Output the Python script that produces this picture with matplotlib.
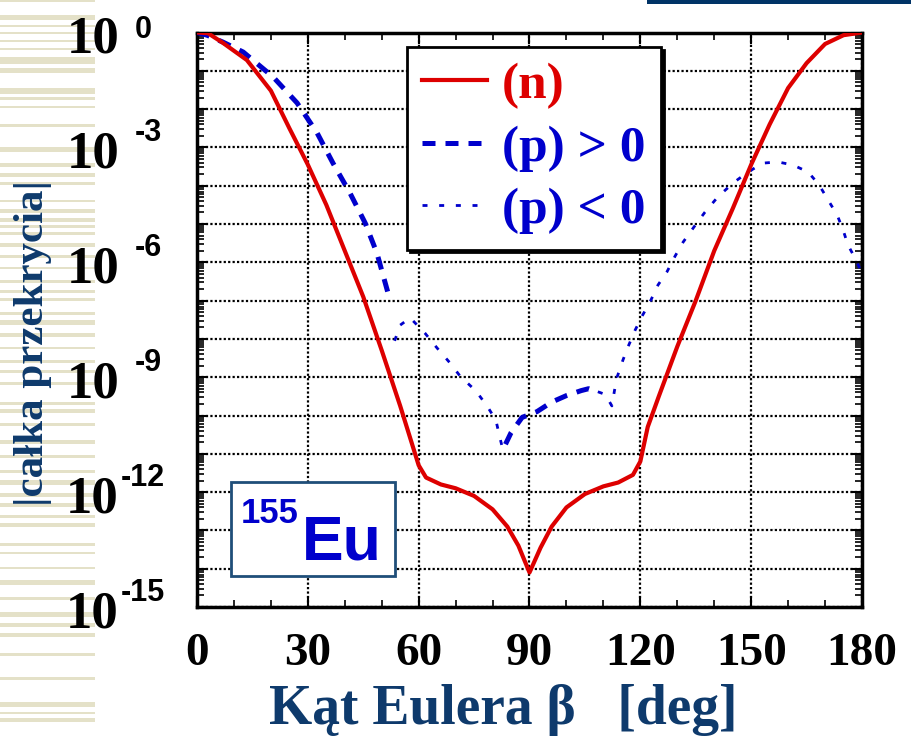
import numpy as np
import matplotlib
matplotlib.use("Agg")
import matplotlib.pyplot as plt
from matplotlib.patches import Rectangle
from matplotlib.ticker import FixedLocator, LogLocator, MultipleLocator, NullFormatter
import matplotlib.transforms as mtransforms

# ---------------- data (exponents of |overlap integral|) ----------------
beta_n = [0, 3, 7, 13.5, 20, 25, 30, 35, 40, 45, 50, 55, 60, 62, 66, 70, 75, 80,
          84, 87, 90, 93, 96, 100, 105, 110, 114, 118, 120, 122, 125, 130, 135,
          140, 145, 150, 155, 160, 165, 170, 175, 180]
log_n = [0, -0.02, -0.27, -0.72, -1.52, -2.5, -3.45, -4.5, -5.7, -6.9, -8.3,
         -9.75, -11.3, -11.62, -11.8, -11.9, -12.1, -12.45, -12.9, -13.4, -14.1,
         -13.45, -12.9, -12.4, -12.05, -11.85, -11.75, -11.55, -11.2, -10.3,
         -9.5, -8.2, -7.0, -5.7, -4.6, -3.45, -2.4, -1.45, -0.8, -0.3, -0.07, 0]

beta_pos1 = [0, 2.7, 7, 12.5, 20.6, 27.1, 32.5, 36.8, 41.4, 45.5, 48.7, 51.7]
log_pos1 = [0, -0.07, -0.25, -0.51, -1.16, -1.84, -2.62, -3.41, -4.19, -4.97, -5.76, -6.8]

beta_pos2 = [83.5, 85, 88, 92, 96, 100, 104, 106, 108.5]
log_pos2 = [-10.75, -10.45, -10.05, -9.9, -9.65, -9.48, -9.35, -9.3, -9.38]

beta_neg1 = [53.5, 55, 57.7, 61.7, 65, 68.5, 71.2, 75.5, 78.5, 80.9, 81.8, 82.8]
log_neg1 = [-8.05, -7.64, -7.45, -7.85, -8.24, -8.63, -8.97, -9.36, -9.75, -10.12, -10.5, -10.9]

beta_neg2 = [108.5, 110.5, 112.3, 113.0, 113.7, 115.3, 116.7, 118.6, 120.5, 122.6,
             124.8, 127.2, 129.4, 131.6, 134.5, 137.5, 141, 145.1, 149.2, 153.2,
             157.3, 161.3, 165.4, 168.4, 170.8, 173.3, 174.9, 176.2, 178.4, 180]
log_neg2 = [-9.38, -9.45, -9.75, -9.35, -9.0, -8.55, -8.2, -7.77, -7.4, -7.04,
            -6.59, -6.25, -5.84, -5.47, -5.08, -4.69, -4.29, -3.93, -3.64, -3.41,
            -3.38, -3.46, -3.64, -3.98, -4.37, -4.77, -5.16, -5.55, -5.94, -6.3]

x_ticks = [0, 30, 60, 90, 120, 150, 180]
y_label_exps = [0, -3, -6, -9, -12, -15]
legend_labels = ["(n)", "(p) > 0", "(p) < 0"]

# ---------------- style ----------------
RED = "#DD0000"
BLUE = "#0000CC"
NAVY = "#0E3A6C"
SERIF = "Liberation Serif"
SANS = "Liberation Sans"

W, H = 912, 737
fig = plt.figure(figsize=(W / 100, H / 100), dpi=100)

# decorative left stripes and top-right bar (pixel rows)
stripes = [(0, 2), (15, 20), (25, 27), (32, 34), (40, 42), (48, 50), (57, 64), (68, 73),
           (88, 94), (97, 100), (106, 108), (124, 127), (147, 152), (163, 167),
           (173, 177), (182, 185), (200, 202), (209, 213), (218, 222), (225, 228),
           (232, 235), (243, 247), (255, 258), (267, 269), (280, 283), (290, 293),
           (298, 301), (312, 315), (320, 325), (333, 337), (347, 349), (360, 363),
           (370, 373), (382, 385), (402, 405), (409, 413), (423, 426), (440, 444),
           (455, 458), (470, 473), (480, 485), (493, 497), (503, 507), (515, 518),
           (523, 527), (543, 546), (552, 554), (567, 569), (580, 585), (597, 600),
           (612, 617), (623, 627), (633, 637), (653, 656), (677, 680), (702, 707),
           (712, 714), (718, 722)]
for y0, y1 in stripes:
    fig.patches.append(Rectangle((0, 1 - y1 / H), 95 / W, (y1 - y0) / H,
                                 transform=fig.transFigure, facecolor="#E4E1C8",
                                 edgecolor="none", zorder=-2))
fig.patches.append(Rectangle((647 / W, 1 - 4 / H), (W - 647) / W, 4 / H,
                             transform=fig.transFigure, facecolor="#003366",
                             edgecolor="none", zorder=-2))

ax = fig.add_axes([197 / W, 1 - 607 / H, 665 / W, 574.5 / H])
ax.set_facecolor("none")

e = lambda v: 10.0 ** np.asarray(v)
ax.plot(beta_n, e(log_n), color=RED, lw=3.0, label=legend_labels[0], zorder=5)
ax.plot(beta_pos1, e(log_pos1), color=BLUE, lw=3.6, dashes=(2.6, 2.0),
        label=legend_labels[1], zorder=4)
ax.plot(beta_pos2, e(log_pos2), color=BLUE, lw=3.6, dashes=(2.6, 2.0), zorder=4)
ax.plot(beta_neg1, e(log_neg1), color=BLUE, lw=2.0, dashes=(1.8, 4.2),
        label=legend_labels[2], zorder=4)
ax.plot(beta_neg2, e(log_neg2), color=BLUE, lw=2.0, dashes=(1.8, 4.2), zorder=4)

ax.set_yscale("log")
ax.set_xlim(0, 180)
ax.set_ylim(1e-15, 1e0)

ax.xaxis.set_major_locator(FixedLocator(x_ticks))
ax.xaxis.set_minor_locator(MultipleLocator(10))
ax.set_xticklabels([str(t) for t in x_ticks], fontfamily=SERIF, fontweight="bold",
                   fontsize=34)
ax.yaxis.set_major_locator(FixedLocator(10.0 ** np.arange(-15, 1)))
ax.yaxis.set_minor_locator(LogLocator(base=10, subs=np.arange(2, 10), numticks=400))
ax.yaxis.set_major_formatter(NullFormatter())
ax.yaxis.set_minor_formatter(NullFormatter())

ax.tick_params(which="both", direction="in", top=True, right=True, color="k")
ax.tick_params(which="major", length=8, width=1.5)
ax.tick_params(which="minor", length=5, width=1.2)
ax.tick_params(axis="x", which="major", pad=19)
for s in ax.spines.values():
    s.set_linewidth(2.5)
    s.set_color("k")

ax.grid(True, which="major", color="k", linestyle=(0, (1, 1)), linewidth=1.6, zorder=1)
ax.set_axisbelow(True)

# y tick labels: "10" + exponent
lab_tr = mtransforms.blended_transform_factory(fig.transFigure, ax.transData)
for ex in y_label_exps:
    two = len(str(abs(ex))) == 2
    x10 = (118 if two else 120) / W
    xe = (121 if two else 135) / W
    up = 2 if ex == 0 else 14
    ax.text(x10, 10.0 ** ex, "10",
            transform=lab_tr + mtransforms.ScaledTranslation(0, -7 / 100, fig.dpi_scale_trans),
            ha="right", va="center", fontfamily=SERIF, fontweight="bold",
            fontsize=38, color="k", clip_on=False)
    ax.text(xe, 10.0 ** ex, str(ex),
            transform=lab_tr + mtransforms.ScaledTranslation(0, up / 100, fig.dpi_scale_trans),
            ha="left", va="center", fontfamily=SANS, fontweight="bold",
            fontsize=22, color="k", clip_on=False)

ax.set_xlabel("Kąt Eulera β   [deg]", fontfamily=SERIF, fontweight="bold",
              fontsize=40, color=NAVY, va="baseline")
ax.xaxis.set_label_coords((503 - 197) / 665, -(724 - 607) / 574.5)
ax.set_ylabel("|całka przekrycia|", fontfamily=SERIF, fontweight="bold",
              fontsize=31, color=NAVY, va="center")
ax.yaxis.set_label_coords((33 - 197) / 665, 1 - (343 - 32.5) / 574.5)

leg = ax.legend(loc="upper left", bbox_to_anchor=((407 - 197) / 665, 1 - (47 - 32.5) / 574.5),
                borderaxespad=0, fancybox=False, framealpha=1, edgecolor="k",
                shadow={"color": "k", "alpha": 1}, labelcolor="linecolor",
                prop={"family": SERIF, "weight": "bold", "size": 37},
                handlelength=1.25, handletextpad=0.3, labelspacing=0.30,
                borderpad=0.3)
leg.get_frame().set_linewidth(2)
leg.set_zorder(10)

# 155Eu box
ax.add_patch(Rectangle((0.051, 0.054), 0.247, 0.164, transform=ax.transAxes,
                       facecolor="white", edgecolor="#1F4E79", lw=2, zorder=8))
ax.text((241 - 197) / 665, 1 - (523 - 32.5) / 574.5, "155", transform=ax.transAxes,
        ha="left", va="baseline", fontfamily=SANS, fontweight="bold", fontsize=25,
        color=BLUE, zorder=9)
ax.text((302 - 197) / 665, 1 - (560 - 32.5) / 574.5, "Eu", transform=ax.transAxes,
        ha="left", va="baseline", fontfamily=SANS, fontweight="bold", fontsize=45,
        color=BLUE, zorder=9)

fig.savefig("out.png", dpi=100)
